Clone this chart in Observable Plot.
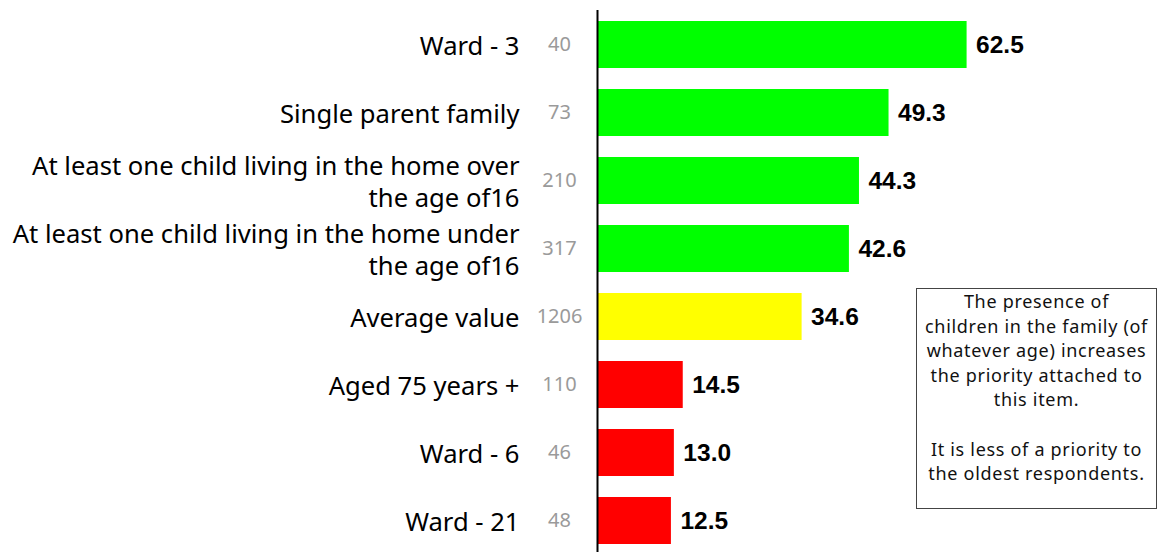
<!DOCTYPE html>
<html>
<head>
<meta charset="utf-8">
<script src="https://cdn.jsdelivr.net/npm/d3@7"></script>
<script src="https://cdn.jsdelivr.net/npm/@observablehq/plot@0.6"></script>
<style>
  html, body { margin: 0; padding: 0; background: #fff; }
  #wrap { position: relative; width: 1157px; height: 552px; overflow: hidden; }
  #note {
    position: absolute; left: 916px; top: 288px; width: 241px; height: 221px;
    border: 1px solid #444; box-sizing: border-box;
    font-family: "Noto Sans", sans-serif; font-size: 18px; line-height: 24.6px; letter-spacing: 0.7px;
    text-align: center; color: #111; padding-top: 0px; white-space: nowrap;
  }
  #note div { height: 24.6px; }
</style>
</head>
<body>
<div id="wrap">
  <div id="chart"></div>
  <div id="note"><div>The presence of</div><div>children in the family (of</div><div>whatever age) increases</div><div>the priority attached to</div><div>this item.</div><div></div><div>It is less of a priority to</div><div>the oldest respondents.</div></div>
</div>
<script>
const categories = [
  "Ward - 3",
  "Single parent family",
  "At least one child living in the home over\nthe age of16",
  "At least one child living in the home under\nthe age of16",
  "Average value",
  "Aged 75 years +",
  "Ward - 6",
  "Ward - 21"
];
const values = [62.5, 49.3, 44.3, 42.6, 34.6, 14.5, 13.0, 12.5];
const counts = [40, 73, 210, 317, 1206, 110, 46, 48];
const groups = ["above", "above", "above", "above", "average", "below", "below", "below"];

const data = categories.map((c, i) => ({cat: c, value: values[i], n: counts[i], group: groups[i]}));

const chart = Plot.plot({
  width: 1157,
  height: 552,
  marginLeft: 597,
  marginRight: 0,
  marginTop: 10,
  marginBottom: 0,
  x: {domain: [0, 94.7], axis: null},
  y: {domain: categories, range: [10.5, 554.5], paddingInner: 0.31, paddingOuter: 0.155, axis: null},
  color: {domain: ["above", "average", "below"], range: ["#00ff00", "#ffff00", "#ff0000"]},
  style: {background: "#fff"},
  marks: [
    Plot.barX(data, {x: "value", y: "cat", fill: "group"}),
    Plot.text(data, {x: "value", y: "cat", text: d => d.value.toFixed(1), textAnchor: "start", dx: 9,
      fontSize: 24.5, fontWeight: "bold", fontFamily: "'Liberation Sans', Arial, sans-serif", fill: "#000"}),
    Plot.text(data, {y: "cat", text: "cat", frameAnchor: "left", textAnchor: "end", dx: -78,
      fontSize: 25.6, lineHeight: 1.26, fontFamily: "'Noto Sans', sans-serif", fill: "#000"}),
    Plot.text(data, {y: "cat", text: d => String(d.n), frameAnchor: "left", textAnchor: "middle", dx: -38,
      fontSize: 20, fontFamily: "'Noto Sans', sans-serif", fill: "#9a9a9a"}),
    Plot.ruleX([0], {stroke: "#000", strokeWidth: 2})
  ]
});
document.getElementById("chart").append(chart);
</script>
</body>
</html>
